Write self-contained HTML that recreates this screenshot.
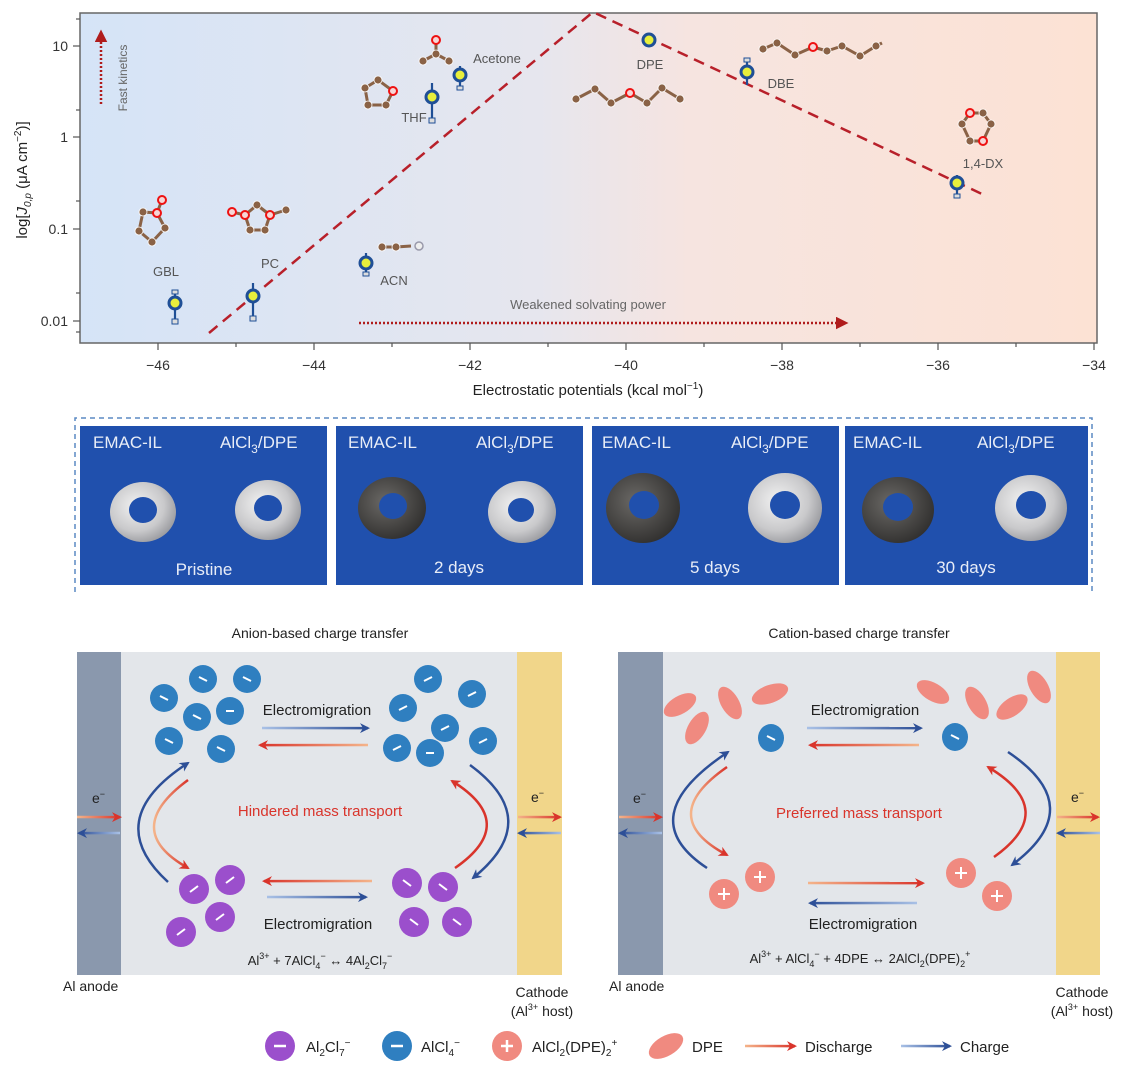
<!DOCTYPE html>
<html><head><meta charset="utf-8"><style>
html,body{margin:0;padding:0;background:#fff;}
svg{display:block;font-family:"Liberation Sans",sans-serif;}
</style></head><body>
<svg width="1132" height="1077" viewBox="0 0 1132 1077" xmlns="http://www.w3.org/2000/svg">
<defs>
<linearGradient id="bg" x1="0" x2="1" y1="0" y2="0">
<stop offset="0" stop-color="#d5e4f7"/><stop offset="0.45" stop-color="#e6e6ee"/><stop offset="0.6" stop-color="#f6e4e0"/><stop offset="1" stop-color="#fce2d4"/></linearGradient>
<linearGradient id="dis" x1="0" x2="1"><stop offset="0" stop-color="#f4b48a"/><stop offset="1" stop-color="#d9342b"/></linearGradient>
<linearGradient id="disr" x1="1" x2="0"><stop offset="0" stop-color="#f4b48a"/><stop offset="1" stop-color="#d9342b"/></linearGradient>
<linearGradient id="chg" x1="0" x2="1"><stop offset="0" stop-color="#a9c1e6"/><stop offset="1" stop-color="#2d4f97"/></linearGradient>
<linearGradient id="chgr" x1="1" x2="0"><stop offset="0" stop-color="#a9c1e6"/><stop offset="1" stop-color="#2d4f97"/></linearGradient>
<radialGradient id="silver" cx="0.4" cy="0.4" r="0.7"><stop offset="0" stop-color="#f2f2f2"/><stop offset="0.6" stop-color="#c9c9cb"/><stop offset="1" stop-color="#8e8f94"/></radialGradient>
<radialGradient id="dark" cx="0.4" cy="0.4" r="0.7"><stop offset="0" stop-color="#6b6966"/><stop offset="1" stop-color="#2c2b2a"/></radialGradient>
<marker id="mr" viewBox="0 0 10 10" refX="8" refY="5" markerWidth="4" markerHeight="4" orient="auto"><path d="M0,0 L10,5 L0,10 L3,5z" fill="#d9342b"/></marker>
<marker id="mb" viewBox="0 0 10 10" refX="8" refY="5" markerWidth="4" markerHeight="4" orient="auto"><path d="M0,0 L10,5 L0,10 L3,5z" fill="#2d4f97"/></marker>
<marker id="md" viewBox="0 0 10 10" refX="8" refY="5" markerWidth="5" markerHeight="5" orient="auto"><path d="M0,0 L10,5 L0,10z" fill="#b01c1c"/></marker>
</defs>

<!-- TOP CHART -->
<rect x="80" y="13" width="1017" height="330" fill="url(#bg)" stroke="#666" stroke-width="1.5"/>
<g stroke="#555" stroke-width="1.2">
<line x1="158" y1="343" x2="158" y2="350"/><line x1="236" y1="343" x2="236" y2="347"/>
<line x1="314" y1="343" x2="314" y2="350"/><line x1="392" y1="343" x2="392" y2="347"/>
<line x1="470" y1="343" x2="470" y2="350"/><line x1="548" y1="343" x2="548" y2="347"/>
<line x1="626" y1="343" x2="626" y2="350"/><line x1="704" y1="343" x2="704" y2="347"/>
<line x1="782" y1="343" x2="782" y2="350"/><line x1="860" y1="343" x2="860" y2="347"/>
<line x1="938" y1="343" x2="938" y2="350"/><line x1="1016" y1="343" x2="1016" y2="347"/>
<line x1="1094" y1="343" x2="1094" y2="350"/>
<line x1="73" y1="46" x2="80" y2="46"/><line x1="73" y1="137" x2="80" y2="137"/><line x1="73" y1="229" x2="80" y2="229"/><line x1="73" y1="321" x2="80" y2="321"/>
<line x1="76" y1="19" x2="80" y2="19"/><line x1="76" y1="110" x2="80" y2="110"/><line x1="76" y1="201" x2="80" y2="201"/><line x1="76" y1="293" x2="80" y2="293"/><line x1="76" y1="332" x2="80" y2="332"/>
</g>
<g font-size="14" fill="#333" text-anchor="middle">
<text x="158" y="370">−46</text><text x="314" y="370">−44</text><text x="470" y="370">−42</text><text x="626" y="370">−40</text><text x="782" y="370">−38</text><text x="938" y="370">−36</text><text x="1094" y="370">−34</text>
</g>
<g font-size="14" fill="#333" text-anchor="end">
<text x="68" y="51">10</text><text x="68" y="142">1</text><text x="68" y="234">0.1</text><text x="68" y="326">0.01</text>
</g>
<text x="588" y="395" font-size="15" fill="#222" text-anchor="middle">Electrostatic potentials (kcal mol<tspan dy="-6" font-size="10">−1</tspan><tspan dy="6">)</tspan></text>
<text transform="translate(27,180) rotate(-90)" font-size="15" fill="#222" text-anchor="middle">log[<tspan font-style="italic">J</tspan><tspan font-size="10" dy="4" font-style="italic">0,p</tspan><tspan dy="-4"> (μA cm</tspan><tspan dy="-6" font-size="10">−2</tspan><tspan dy="6">)]</tspan></text>

<line x1="101" y1="104" x2="101" y2="32" stroke="#b01c1c" stroke-width="2.5" stroke-dasharray="2,2" marker-end="url(#md)"/>
<text transform="translate(127,78) rotate(-90)" font-size="12" fill="#666" text-anchor="middle">Fast  kinetics</text>
<text x="588" y="309" font-size="13" fill="#666" text-anchor="middle">Weakened solvating power</text>
<line x1="359" y1="323" x2="846" y2="323" stroke="#b01c1c" stroke-width="2.5" stroke-dasharray="2,2" marker-end="url(#md)"/>
<polyline points="209,333 593,12 982,194" fill="none" stroke="#b8202a" stroke-width="2.5" stroke-dasharray="11,7"/>

<g font-size="13" fill="#555" text-anchor="middle">
<text x="166" y="276">GBL</text><text x="270" y="268">PC</text><text x="394" y="285">ACN</text><text x="414" y="122">THF</text><text x="497" y="63">Acetone</text><text x="650" y="69">DPE</text><text x="781" y="88">DBE</text><text x="983" y="168">1,4-DX</text>
</g>

<g stroke="#8a6246" stroke-width="3" fill="none" stroke-linejoin="round">
<polygon points="143,212 157,213 165,228 152,242 139,231"/>
<line x1="157" y1="213" x2="162" y2="200"/>
<polygon points="257,205 245,215 250,230 265,230 270,215"/><line x1="245" y1="215" x2="232" y2="212"/><line x1="270" y1="215" x2="286" y2="210"/>
<polygon points="378,80 365,88 368,105 386,105 393,91"/>
<polyline points="423,61 436,54 449,61"/><line x1="436" y1="54" x2="436" y2="40"/>
<polyline points="382,247 396,247 411,246"/>
<polyline points="576,99 595,89 611,103 630,93 647,103 662,88 680,99"/>
<polyline points="763,49 777,43 795,55 813,47 827,51 842,46 860,56 876,46 882,43"/>
<polygon points="970,113 983,113 991,124 983,141 970,141 962,124"/>
</g>
<g fill="#8a6246" stroke="#fff" stroke-width="0.8">
<circle cx="143" cy="212" r="4"/><circle cx="165" cy="228" r="4"/><circle cx="152" cy="242" r="4"/><circle cx="139" cy="231" r="4"/>
<circle cx="257" cy="205" r="4"/><circle cx="250" cy="230" r="4"/><circle cx="265" cy="230" r="4"/><circle cx="286" cy="210" r="4"/>
<circle cx="378" cy="80" r="4"/><circle cx="365" cy="88" r="4"/><circle cx="368" cy="105" r="4"/><circle cx="386" cy="105" r="4"/>
<circle cx="423" cy="61" r="4"/><circle cx="436" cy="54" r="4"/><circle cx="449" cy="61" r="4"/>
<circle cx="382" cy="247" r="4"/><circle cx="396" cy="247" r="4"/>
<circle cx="576" cy="99" r="4"/><circle cx="595" cy="89" r="4"/><circle cx="611" cy="103" r="4"/><circle cx="647" cy="103" r="4"/><circle cx="662" cy="88" r="4"/><circle cx="680" cy="99" r="4"/>
<circle cx="763" cy="49" r="4"/><circle cx="777" cy="43" r="4"/><circle cx="795" cy="55" r="4"/><circle cx="827" cy="51" r="4"/><circle cx="842" cy="46" r="4"/><circle cx="860" cy="56" r="4"/><circle cx="876" cy="46" r="4"/>
<circle cx="970" cy="141" r="4"/><circle cx="983" cy="113" r="4"/><circle cx="991" cy="124" r="4"/><circle cx="962" cy="124" r="4"/>
</g>
<g fill="#f6d6d6" stroke="#e11" stroke-width="2">
<circle cx="157" cy="213" r="4"/><circle cx="162" cy="200" r="4"/><circle cx="245" cy="215" r="4"/><circle cx="270" cy="215" r="4"/><circle cx="232" cy="212" r="4"/>
<circle cx="393" cy="91" r="4"/><circle cx="436" cy="40" r="4"/><circle cx="630" cy="93" r="4"/><circle cx="813" cy="47" r="4"/><circle cx="970" cy="113" r="4"/><circle cx="983" cy="141" r="4"/>
</g>
<circle cx="419" cy="246" r="4" fill="#eee" stroke="#99a" stroke-width="1.5"/>

<g stroke="#1f4f96" stroke-width="2.2">
<g><line x1="175" y1="292" x2="175" y2="322"/><rect x="172" y="319" width="6" height="5" fill="#ddd" stroke-width="1"/><rect x="172" y="290" width="6" height="4" fill="#ddd" stroke-width="1"/><circle cx="175" cy="303" r="6" fill="#e8ef3c" stroke-width="3"/></g>
<g><line x1="253" y1="283" x2="253" y2="318"/><rect x="250" y="316" width="6" height="5" fill="#ddd" stroke-width="1"/><circle cx="253" cy="296" r="6" fill="#e8ef3c" stroke-width="3"/></g>
<g><line x1="366" y1="253" x2="366" y2="274"/><rect x="363" y="272" width="6" height="4" fill="#ddd" stroke-width="1"/><circle cx="366" cy="263" r="6" fill="#e8ef3c" stroke-width="3"/></g>
<g><line x1="432" y1="83" x2="432" y2="120"/><rect x="429" y="118" width="6" height="5" fill="#ddd" stroke-width="1"/><circle cx="432" cy="97" r="6" fill="#e8ef3c" stroke-width="3"/></g>
<g><line x1="460" y1="66" x2="460" y2="88"/><rect x="457" y="86" width="6" height="4" fill="#ddd" stroke-width="1"/><circle cx="460" cy="75" r="6" fill="#e8ef3c" stroke-width="3"/></g>
<g><circle cx="649" cy="40" r="6" fill="#e8ef3c" stroke-width="3"/></g>
<g><line x1="747" y1="59" x2="747" y2="85"/><rect x="744" y="58" width="6" height="4" fill="#ddd" stroke-width="1"/><circle cx="747" cy="72" r="6" fill="#e8ef3c" stroke-width="3"/></g>
<g><line x1="957" y1="175" x2="957" y2="196"/><rect x="954" y="194" width="6" height="4" fill="#ddd" stroke-width="1"/><circle cx="957" cy="183" r="6" fill="#e8ef3c" stroke-width="3"/></g>
</g>

<!-- PHOTO PANEL -->
<path d="M75,592 V418 H1092 V592" fill="none" stroke="#5b8ac4" stroke-width="1.5" stroke-dasharray="5,4"/>
<rect x="80" y="426" width="247" height="159" fill="#2050ad"/>
<rect x="336" y="426" width="247" height="159" fill="#2050ad"/>
<rect x="592" y="426" width="247" height="159" fill="#2050ad"/>
<rect x="845" y="426" width="243" height="159" fill="#2050ad"/>
<g font-size="17" fill="#e8edf7">
<text x="93" y="448">EMAC-IL</text><text x="220" y="448">AlCl<tspan font-size="12" dy="5">3</tspan><tspan dy="-5">/DPE</tspan></text>
<text x="348" y="448">EMAC-IL</text><text x="476" y="448">AlCl<tspan font-size="12" dy="5">3</tspan><tspan dy="-5">/DPE</tspan></text>
<text x="602" y="448">EMAC-IL</text><text x="731" y="448">AlCl<tspan font-size="12" dy="5">3</tspan><tspan dy="-5">/DPE</tspan></text>
<text x="853" y="448">EMAC-IL</text><text x="977" y="448">AlCl<tspan font-size="12" dy="5">3</tspan><tspan dy="-5">/DPE</tspan></text>
</g>
<g font-size="17" fill="#e8edf7" text-anchor="middle">
<text x="204" y="575">Pristine</text><text x="459" y="573">2 days</text><text x="715" y="573">5 days</text><text x="966" y="573">30 days</text>
</g>
<g fill-rule="evenodd">
<path d="M110,512 a33,30 0 1,0 66,0 a33,30 0 1,0 -66,0z M129,510 a14,13 0 1,0 28,0 a14,13 0 1,0 -28,0z" fill="url(#silver)"/>
<path d="M235,510 a33,30 0 1,0 66,0 a33,30 0 1,0 -66,0z M254,508 a14,13 0 1,0 28,0 a14,13 0 1,0 -28,0z" fill="url(#silver)"/>
<path d="M358,508 a34,31 0 1,0 68,0 a34,31 0 1,0 -68,0z M379,506 a14,13 0 1,0 28,0 a14,13 0 1,0 -28,0z" fill="url(#dark)"/>
<path d="M488,512 a34,31 0 1,0 68,0 a34,31 0 1,0 -68,0z M508,510 a13,12 0 1,0 26,0 a13,12 0 1,0 -26,0z" fill="url(#silver)"/>
<path d="M606,508 a37,35 0 1,0 74,0 a37,35 0 1,0 -74,0z M629,505 a15,14 0 1,0 30,0 a15,14 0 1,0 -30,0z" fill="url(#dark)"/>
<path d="M748,508 a37,35 0 1,0 74,0 a37,35 0 1,0 -74,0z M770,505 a15,14 0 1,0 30,0 a15,14 0 1,0 -30,0z" fill="url(#silver)"/>
<path d="M862,510 a36,33 0 1,0 72,0 a36,33 0 1,0 -72,0z M883,507 a15,14 0 1,0 30,0 a15,14 0 1,0 -30,0z" fill="url(#dark)"/>
<path d="M995,508 a36,33 0 1,0 72,0 a36,33 0 1,0 -72,0z M1016,505 a15,14 0 1,0 30,0 a15,14 0 1,0 -30,0z" fill="url(#silver)"/>
</g>

<!-- BOTTOM LEFT -->
<text x="320" y="638" font-size="14" fill="#222" text-anchor="middle">Anion-based charge transfer</text>
<rect x="77" y="652" width="485" height="323" fill="#e3e6ea"/>
<rect x="77" y="652" width="44" height="323" fill="#8a98ad"/>
<rect x="517" y="652" width="45" height="323" fill="#f1d68a"/>
<g fill="#2f7fc0">
<circle cx="203" cy="679" r="14"/><circle cx="247" cy="679" r="14"/><circle cx="164" cy="698" r="14"/><circle cx="197" cy="717" r="14"/><circle cx="230" cy="711" r="14"/><circle cx="169" cy="741" r="14"/><circle cx="221" cy="749" r="14"/>
<circle cx="428" cy="679" r="14"/><circle cx="472" cy="694" r="14"/><circle cx="403" cy="708" r="14"/><circle cx="445" cy="728" r="14"/><circle cx="483" cy="741" r="14"/><circle cx="397" cy="748" r="14"/><circle cx="430" cy="753" r="14"/>
</g>
<g fill="#9b4fcc">
<circle cx="194" cy="889" r="15"/><circle cx="230" cy="880" r="15"/><circle cx="220" cy="917" r="15"/><circle cx="181" cy="932" r="15"/>
<circle cx="407" cy="883" r="15"/><circle cx="443" cy="887" r="15"/><circle cx="414" cy="922" r="15"/><circle cx="457" cy="922" r="15"/>
</g>
<g stroke="#fff" stroke-width="2">
<line x1="199" y1="677" x2="207" y2="681"/><line x1="243" y1="677" x2="251" y2="681"/><line x1="160" y1="696" x2="168" y2="700"/><line x1="193" y1="715" x2="201" y2="719"/><line x1="226" y1="711" x2="234" y2="711"/><line x1="165" y1="739" x2="173" y2="743"/><line x1="217" y1="747" x2="225" y2="751"/>
<line x1="424" y1="681" x2="432" y2="677"/><line x1="468" y1="696" x2="476" y2="692"/><line x1="399" y1="710" x2="407" y2="706"/><line x1="441" y1="730" x2="449" y2="726"/><line x1="479" y1="743" x2="487" y2="739"/><line x1="393" y1="750" x2="401" y2="746"/><line x1="426" y1="753" x2="434" y2="753"/>
<line x1="190" y1="892" x2="198" y2="886"/><line x1="226" y1="883" x2="234" y2="877"/><line x1="216" y1="920" x2="224" y2="914"/><line x1="177" y1="935" x2="185" y2="929"/>
<line x1="403" y1="880" x2="411" y2="886"/><line x1="439" y1="884" x2="447" y2="890"/><line x1="410" y1="919" x2="418" y2="925"/><line x1="453" y1="919" x2="461" y2="925"/>
</g>
<g font-size="15" fill="#222" text-anchor="middle">
<text x="317" y="715">Electromigration</text><text x="318" y="929">Electromigration</text>
</g>
<text x="320" y="816" font-size="15" fill="#d9342b" text-anchor="middle">Hindered mass transport</text>
<text x="320" y="965" font-size="13" fill="#222" text-anchor="middle">Al<tspan font-size="9" dy="-6">3+</tspan><tspan dy="6"> + 7AlCl</tspan><tspan font-size="9" dy="4">4</tspan><tspan font-size="9" dy="-10">−</tspan><tspan dy="6"> ↔ 4Al</tspan><tspan font-size="9" dy="4">2</tspan><tspan dy="-4">Cl</tspan><tspan font-size="9" dy="4">7</tspan><tspan font-size="9" dy="-10">−</tspan></text>
<g stroke-width="2.5" fill="none">
<path d="M262,728 L368,728.1" stroke="url(#chg)" marker-end="url(#mb)"/>
<path d="M368,745 L260,745.1" stroke="url(#disr)" marker-end="url(#mr)"/>
<path d="M372,881 L264,881.1" stroke="url(#disr)" marker-end="url(#mr)"/>
<path d="M267,897 L366,897.1" stroke="url(#chg)" marker-end="url(#mb)"/>
<path d="M168,882 Q100,820 188,763" stroke="#2d4f97" marker-end="url(#mb)"/>
<path d="M188,780 Q120,830 188,868" stroke="url(#dis)" marker-end="url(#mr)"/>
<path d="M470,765 Q545,820 473,878" stroke="#2d4f97" marker-end="url(#mb)"/>
<path d="M455,868 Q520,823 452,781" stroke="#d9342b" marker-end="url(#mr)"/>
<path d="M77,817 L120,817.1" stroke="url(#dis)" marker-end="url(#mr)"/>
<path d="M120,833 L79,833.1" stroke="url(#chgr)" marker-end="url(#mb)"/>
<path d="M518,817 L560,817.1" stroke="url(#dis)" marker-end="url(#mr)"/>
<path d="M561,833 L519,833.1" stroke="url(#chgr)" marker-end="url(#mb)"/>
</g>
<g font-size="14" fill="#222">
<text x="92" y="803">e<tspan font-size="9" dy="-6">−</tspan></text><text x="531" y="802">e<tspan font-size="9" dy="-6">−</tspan></text>
<text x="63" y="991">Al anode</text>
<text x="542" y="997" text-anchor="middle">Cathode</text><text x="542" y="1016" text-anchor="middle">(Al<tspan font-size="9" dy="-6">3+</tspan><tspan dy="6"> host)</tspan></text>
</g>

<!-- BOTTOM RIGHT -->
<text x="859" y="638" font-size="14" fill="#222" text-anchor="middle">Cation-based charge transfer</text>
<rect x="618" y="652" width="482" height="323" fill="#e3e6ea"/>
<rect x="618" y="652" width="45" height="323" fill="#8a98ad"/>
<rect x="1056" y="652" width="44" height="323" fill="#f1d68a"/>
<g fill="#f08a80">
<ellipse cx="680" cy="705" rx="18" ry="9" transform="rotate(-30 680 705)"/>
<ellipse cx="730" cy="703" rx="18" ry="9" transform="rotate(60 730 703)"/>
<ellipse cx="697" cy="728" rx="18" ry="9" transform="rotate(-60 697 728)"/>
<ellipse cx="770" cy="694" rx="19" ry="9" transform="rotate(-20 770 694)"/>
<ellipse cx="933" cy="692" rx="18" ry="9" transform="rotate(30 933 692)"/>
<ellipse cx="977" cy="703" rx="18" ry="9" transform="rotate(60 977 703)"/>
<ellipse cx="1012" cy="707" rx="18" ry="9" transform="rotate(-35 1012 707)"/>
<ellipse cx="1039" cy="687" rx="18" ry="9" transform="rotate(60 1039 687)"/>
<circle cx="760" cy="877" r="15"/><circle cx="724" cy="894" r="15"/><circle cx="961" cy="873" r="15"/><circle cx="997" cy="896" r="15"/>
</g>
<g fill="#2f7fc0"><ellipse cx="771" cy="738" rx="13" ry="14"/><ellipse cx="955" cy="737" rx="13" ry="14"/></g>
<g stroke="#fff" stroke-width="2">
<line x1="767" y1="736" x2="775" y2="740"/><line x1="951" y1="735" x2="959" y2="739"/>
<line x1="754" y1="877" x2="766" y2="877"/><line x1="760" y1="871" x2="760" y2="883"/>
<line x1="718" y1="894" x2="730" y2="894"/><line x1="724" y1="888" x2="724" y2="900"/>
<line x1="955" y1="873" x2="967" y2="873"/><line x1="961" y1="867" x2="961" y2="879"/>
<line x1="991" y1="896" x2="1003" y2="896"/><line x1="997" y1="890" x2="997" y2="902"/>
</g>
<g font-size="15" fill="#222" text-anchor="middle">
<text x="865" y="715">Electromigration</text><text x="863" y="929">Electromigration</text>
</g>
<text x="859" y="818" font-size="15" fill="#d9342b" text-anchor="middle">Preferred mass transport</text>
<text x="860" y="963" font-size="13" fill="#222" text-anchor="middle">Al<tspan font-size="9" dy="-6">3+</tspan><tspan dy="6"> + AlCl</tspan><tspan font-size="9" dy="4">4</tspan><tspan font-size="9" dy="-10">−</tspan><tspan dy="6"> + 4DPE ↔ 2AlCl</tspan><tspan font-size="9" dy="4">2</tspan><tspan dy="-4">(DPE)</tspan><tspan font-size="9" dy="4">2</tspan><tspan font-size="9" dy="-10">+</tspan></text>
<g stroke-width="2.5" fill="none">
<path d="M807,728 L921,728.1" stroke="url(#chg)" marker-end="url(#mb)"/>
<path d="M919,745 L810,745.1" stroke="url(#disr)" marker-end="url(#mr)"/>
<path d="M808,883 L923,883.1" stroke="url(#dis)" marker-end="url(#mr)"/>
<path d="M917,903 L810,903.1" stroke="url(#chgr)" marker-end="url(#mb)"/>
<path d="M707,868 Q630,817 728,752" stroke="#2d4f97" marker-end="url(#mb)"/>
<path d="M727,767 Q655,817 727,855" stroke="url(#dis)" marker-end="url(#mr)"/>
<path d="M1008,752 Q1090,807 1012,865" stroke="#2d4f97" marker-end="url(#mb)"/>
<path d="M994,857 Q1060,810 988,767" stroke="#d9342b" marker-end="url(#mr)"/>
<path d="M619,817 L661,817.1" stroke="url(#dis)" marker-end="url(#mr)"/>
<path d="M662,833 L620,833.1" stroke="url(#chgr)" marker-end="url(#mb)"/>
<path d="M1057,817 L1098,817.1" stroke="url(#dis)" marker-end="url(#mr)"/>
<path d="M1100,833 L1058,833.1" stroke="url(#chgr)" marker-end="url(#mb)"/>
</g>
<g font-size="14" fill="#222">
<text x="633" y="803">e<tspan font-size="9" dy="-6">−</tspan></text><text x="1071" y="802">e<tspan font-size="9" dy="-6">−</tspan></text>
<text x="609" y="991">Al anode</text>
<text x="1082" y="997" text-anchor="middle">Cathode</text><text x="1082" y="1016" text-anchor="middle">(Al<tspan font-size="9" dy="-6">3+</tspan><tspan dy="6"> host)</tspan></text>
</g>

<!-- LEGEND -->
<circle cx="280" cy="1046" r="15" fill="#9b4fcc"/><line x1="274" y1="1046" x2="286" y2="1046" stroke="#fff" stroke-width="2.5"/>
<circle cx="397" cy="1046" r="15" fill="#2f7fc0"/><line x1="391" y1="1046" x2="403" y2="1046" stroke="#fff" stroke-width="2.5"/>
<circle cx="507" cy="1046" r="15" fill="#f08a80"/><line x1="501" y1="1046" x2="513" y2="1046" stroke="#fff" stroke-width="2.5"/><line x1="507" y1="1040" x2="507" y2="1052" stroke="#fff" stroke-width="2.5"/>
<ellipse cx="666" cy="1046" rx="19" ry="10" transform="rotate(-30 666 1046)" fill="#f08a80"/>
<g font-size="15" fill="#222">
<text x="306" y="1052">Al<tspan font-size="10" dy="4">2</tspan><tspan dy="-4">Cl</tspan><tspan font-size="10" dy="4">7</tspan><tspan font-size="10" dy="-10">−</tspan></text>
<text x="421" y="1052">AlCl<tspan font-size="10" dy="4">4</tspan><tspan font-size="10" dy="-10">−</tspan></text>
<text x="532" y="1052">AlCl<tspan font-size="10" dy="4">2</tspan><tspan dy="-4">(DPE)</tspan><tspan font-size="10" dy="4">2</tspan><tspan font-size="10" dy="-10">+</tspan></text>
<text x="692" y="1052">DPE</text>
<text x="805" y="1052">Discharge</text>
<text x="960" y="1052">Charge</text>
</g>
<path d="M745,1046 L795,1046.1" stroke="url(#dis)" stroke-width="2.5" fill="none" marker-end="url(#mr)"/>
<path d="M901,1046 L950,1046.1" stroke="url(#chg)" stroke-width="2.5" fill="none" marker-end="url(#mb)"/>
</svg>
</body></html>
